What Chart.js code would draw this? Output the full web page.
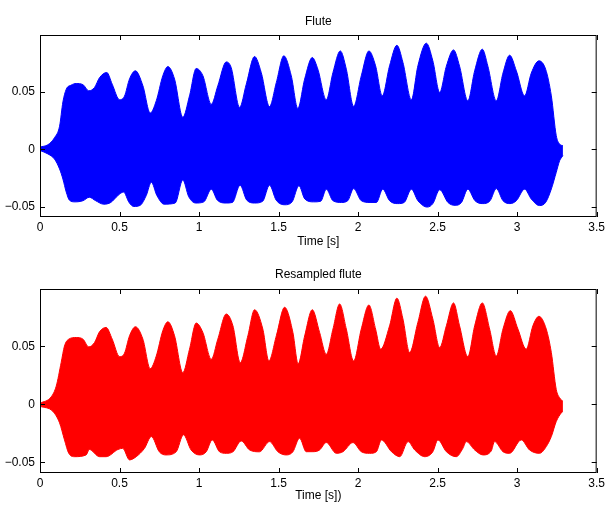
<!DOCTYPE html>
<html>
<head>
<meta charset="utf-8">
<script src="https://cdn.jsdelivr.net/npm/chart.js@4"></script>
<style>
  body { margin: 0; background: #fff; width: 608px; height: 506px; overflow: hidden; }
  .plot { position: absolute; left: 0; width: 608px; height: 253px; }
</style>
</head>
<body>
<div class="plot" style="top:0"><canvas id="flute" width="608" height="253"></canvas></div>
<div class="plot" style="top:253px"><canvas id="resampled" width="608" height="253"></canvas></div>
<script>
// tick values
const xTicks = [0, 0.5, 1, 1.5, 2, 2.5, 3, 3.5];
const yTicks = [-0.05, 0, 0.05];

// envelope of the original flute signal [time s, amplitude]
const fluteUpper = [
  [0,0.002],[0.05,0.004],[0.091,0.010],[0.123,0.020],[0.144,0.041],[0.165,0.052],[0.196,0.0556],
  [0.228,0.057],[0.27,0.056],[0.307,0.0507],[0.343,0.0536],[0.374,0.062],[0.42,0.0665],[0.454,0.0564],
  [0.5,0.043],[0.531,0.046],[0.563,0.061],[0.60,0.068],[0.647,0.055],[0.693,0.0314],[0.731,0.042],
  [0.772,0.0636],[0.804,0.0717],[0.846,0.0608],[0.898,0.0277],[0.94,0.0463],[0.982,0.070],[1.024,0.0638],
  [1.077,0.039],[1.118,0.055],[1.171,0.0757],[1.202,0.0708],[1.255,0.0363],[1.297,0.0564],[1.349,0.0804],
  [1.391,0.0665],[1.443,0.037],[1.486,0.0579],[1.533,0.081],[1.58,0.0636],[1.621,0.0354],[1.664,0.0608],
  [1.712,0.0795],[1.747,0.0694],[1.80,0.0429],[1.842,0.0665],[1.888,0.0852],[1.926,0.0694],[1.972,0.0372],
  [2.02,0.0636],[2.068,0.0852],[2.11,0.0723],[2.152,0.0463],[2.198,0.0723],[2.244,0.0901],[2.282,0.0752],
  [2.335,0.0429],[2.376,0.0723],[2.429,0.0919],[2.47,0.0766],[2.513,0.0493],[2.555,0.072],[2.60,0.0861],
  [2.638,0.072],[2.69,0.042],[2.733,0.068],[2.781,0.0867],[2.816,0.072],[2.869,0.042],[2.911,0.066],
  [2.953,0.0815],[2.995,0.068],[3.047,0.0463],[3.089,0.066],[3.137,0.0766],[3.179,0.0694],[3.215,0.0463],
  [3.246,0.0118],[3.267,0.0046],[3.288,0.0031]
];
const fluteLower = [
  [0,-0.001],[0.05,-0.004],[0.091,-0.0084],[0.123,-0.017],[0.144,-0.0257],[0.165,-0.037],[0.185,-0.044],
  [0.22,-0.0455],[0.27,-0.0445],[0.31,-0.0415],[0.35,-0.0445],[0.40,-0.0475],[0.445,-0.046],[0.49,-0.04],
  [0.525,-0.037],[0.56,-0.046],[0.59,-0.0495],[0.63,-0.0485],[0.668,-0.040],[0.70,-0.0285],[0.735,-0.040],
  [0.78,-0.0475],[0.85,-0.0465],[0.898,-0.0265],[0.935,-0.041],[0.98,-0.0465],[1.03,-0.0455],[1.077,-0.0345],
  [1.115,-0.044],[1.17,-0.0465],[1.21,-0.046],[1.258,-0.031],[1.30,-0.044],[1.35,-0.0465],[1.40,-0.045],
  [1.443,-0.031],[1.485,-0.044],[1.54,-0.048],[1.585,-0.0455],[1.628,-0.0315],[1.665,-0.043],[1.72,-0.0455],
  [1.765,-0.045],[1.80,-0.0345],[1.842,-0.0445],[1.895,-0.046],[1.935,-0.0445],[1.972,-0.034],[2.02,-0.0445],
  [2.075,-0.046],[2.115,-0.046],[2.155,-0.0345],[2.198,-0.0445],[2.25,-0.047],[2.29,-0.046],[2.335,-0.0345],
  [2.376,-0.0445],[2.435,-0.050],[2.47,-0.047],[2.513,-0.035],[2.565,-0.046],[2.61,-0.0485],[2.65,-0.046],
  [2.69,-0.0345],[2.735,-0.0445],[2.785,-0.047],[2.83,-0.0445],[2.869,-0.034],[2.911,-0.0445],[2.955,-0.047],
  [2.995,-0.0445],[3.047,-0.0345],[3.089,-0.043],[3.14,-0.0487],[3.18,-0.0458],[3.215,-0.0343],[3.246,-0.0199],
  [3.267,-0.0099],[3.288,-0.0055]
];

// envelope of the resampled signal
const resUpper = [
  [0,0.001],[0.07,0.0064],[0.102,0.0157],[0.133,0.036],[0.154,0.0504],[0.181,0.0563],[0.228,0.0577],
  [0.27,0.0563],[0.307,0.0496],[0.343,0.0534],[0.374,0.0626],[0.416,0.0664],[0.454,0.0563],[0.5,0.0412],
  [0.531,0.0441],[0.563,0.0592],[0.6,0.067],[0.647,0.0563],[0.693,0.0308],[0.731,0.0417],[0.772,0.0635],
  [0.804,0.0713],[0.846,0.0592],[0.898,0.0273],[0.94,0.0476],[0.982,0.0702],[1.024,0.0621],[1.077,0.0389],
  [1.118,0.0563],[1.171,0.078],[1.213,0.0678],[1.259,0.036],[1.307,0.0592],[1.349,0.0817],[1.401,0.065],
  [1.439,0.0375],[1.486,0.0592],[1.538,0.0838],[1.59,0.0621],[1.623,0.035],[1.664,0.059],[1.712,0.0817],
  [1.758,0.0621],[1.8,0.0432],[1.842,0.065],[1.884,0.0867],[1.926,0.065],[1.972,0.0374],[2.02,0.065],
  [2.068,0.0858],[2.11,0.065],[2.142,0.0476],[2.198,0.0678],[2.244,0.0917],[2.282,0.0737],[2.324,0.0447],
  [2.376,0.0708],[2.424,0.0934],[2.47,0.0737],[2.513,0.049],[2.555,0.0678],[2.6,0.0876],[2.638,0.0678],
  [2.69,0.0412],[2.733,0.0678],[2.781,0.0876],[2.827,0.065],[2.869,0.0417],[2.911,0.065],[2.957,0.0809],
  [3.005,0.065],[3.057,0.0476],[3.099,0.0678],[3.137,0.076],[3.183,0.065],[3.215,0.0447],[3.246,0.0128],
  [3.267,0.0056],[3.288,0.0026]
];
const resLower = [
  [0,-0.0017],[0.08,-0.006],[0.123,-0.016],[0.154,-0.0307],[0.181,-0.0423],[0.217,-0.0452],[0.29,-0.0437],
  [0.31,-0.039],[0.374,-0.0452],[0.416,-0.0452],[0.49,-0.039],[0.52,-0.038],[0.563,-0.048],[0.605,-0.0452],
  [0.657,-0.038],[0.70,-0.0278],[0.75,-0.041],[0.793,-0.0437],[0.856,-0.041],[0.902,-0.0263],[0.95,-0.0394],
  [1.003,-0.0437],[1.045,-0.041],[1.083,-0.0307],[1.129,-0.041],[1.171,-0.0423],[1.213,-0.041],[1.265,-0.0316],
  [1.318,-0.0394],[1.38,-0.041],[1.443,-0.0322],[1.496,-0.041],[1.548,-0.0437],[1.59,-0.041],[1.632,-0.0292],
  [1.674,-0.0409],[1.716,-0.0409],[1.758,-0.0394],[1.80,-0.033],[1.863,-0.0423],[1.905,-0.0409],[1.968,-0.033],
  [2.02,-0.0409],[2.073,-0.0423],[2.115,-0.0409],[2.147,-0.0307],[2.21,-0.0409],[2.262,-0.0452],[2.314,-0.0322],
  [2.356,-0.0394],[2.419,-0.0452],[2.47,-0.0409],[2.502,-0.0307],[2.555,-0.0409],[2.617,-0.0452],[2.659,-0.038],
  [2.68,-0.0322],[2.733,-0.0394],[2.785,-0.0437],[2.837,-0.0403],[2.858,-0.0322],[2.911,-0.0409],[2.953,-0.0423],
  [3.026,-0.0307],[3.078,-0.0394],[3.141,-0.0423],[3.183,-0.0365],[3.215,-0.0278],[3.246,-0.0148],[3.277,-0.0075],
  [3.288,-0.006]
];

const font = { family: "'Liberation Sans', Arial, Helvetica, sans-serif", size: 12 };

// matlab style box with inward ticks on all four sides
const boxTicks = {
  id: 'boxTicks',
  afterDatasetsDraw(chart) {
    const { ctx, chartArea: a, scales: { x, y } } = chart;
    ctx.save();
    ctx.strokeStyle = '#000';
    ctx.lineWidth = 1;
    ctx.beginPath();
    xTicks.forEach(v => {
      const px = Math.round(x.getPixelForValue(v)) + 0.5;
      ctx.moveTo(px, a.bottom); ctx.lineTo(px, a.bottom - 5);
      ctx.moveTo(px, a.top); ctx.lineTo(px, a.top + 5);
    });
    yTicks.forEach(v => {
      const py = Math.round(y.getPixelForValue(v)) + 0.5;
      ctx.moveTo(a.left, py); ctx.lineTo(a.left + 5, py);
      ctx.moveTo(a.right, py); ctx.lineTo(a.right - 5, py);
    });
    ctx.stroke();
    ctx.strokeRect(a.left + 0.5, a.top + 0.5, a.right - a.left - 1, a.bottom - a.top - 1);
    ctx.restore();
  }
};

function toPoints(arr) {
  return arr.map(p => ({ x: p[0], y: p[1] }));
}

function makeChart(id, title, xTitle, color, upper, lower, box) {
  return new Chart(document.getElementById(id), {
    type: 'line',
    data: {
      datasets: [
        { data: toPoints(upper), borderColor: color, backgroundColor: color, fill: '+1',
          borderWidth: 1, pointRadius: 0, cubicInterpolationMode: 'monotone', xAxisID: 'x', yAxisID: 'y' },
        { data: toPoints(lower), borderColor: color, backgroundColor: color, fill: false,
          borderWidth: 1, pointRadius: 0, cubicInterpolationMode: 'monotone', xAxisID: 'x', yAxisID: 'y' }
      ]
    },
    options: {
      responsive: false,
      animation: false,
      layout: { padding: { left: 0, right: 11, top: 0, bottom: 0 } },
      plugins: { legend: { display: false }, tooltip: { enabled: false } },
      scales: {
        x: {
          type: 'linear', position: 'bottom', min: 0, max: 3.5,
          afterBuildTicks: s => { s.ticks = xTicks.map(v => ({ value: v })); },
          afterFit: s => { s.height = box.bottomH; },
          grid: { display: false, drawTicks: false }, border: { display: false },
          ticks: { color: '#000', font, padding: 3, maxRotation: 0, autoSkip: false,
                   callback: v => String(v) },
          title: { display: true, text: xTitle, color: '#000', font, padding: { top: 0, bottom: box.xTitlePad } }
        },
        top: {
          type: 'linear', position: 'top', min: 0, max: 3.5,
          afterFit: s => { s.height = box.topH; },
          grid: { display: false, drawTicks: false }, border: { display: false },
          ticks: { display: false },
          title: { display: true, text: title, color: '#000', font, padding: { top: 14, bottom: 0 } }
        },
        y: {
          type: 'linear', position: 'left', min: box.yMin, max: box.yMax,
          afterBuildTicks: s => { s.ticks = yTicks.map(v => ({ value: v })); },
          afterFit: s => { s.width = 40; },
          grid: { display: false, drawTicks: false }, border: { display: false },
          ticks: { color: '#000', font, padding: 5,
                   callback: v => v < 0 ? '\u2212' + Math.abs(v) : String(v) }
        }
      }
    },
    plugins: [boxTicks]
  });
}

makeChart('flute', 'Flute', 'Time [s]', '#0000ff', fluteUpper, fluteLower,
  { topH: 35, bottomH: 36, xTitlePad: 4, yMin: -0.0586, yMax: 0.099 });
makeChart('resampled', 'Resampled flute', 'Time [s])', '#ff0000', resUpper, resLower,
  { topH: 36, bottomH: 33, xTitlePad: 3, yMin: -0.0593, yMax: 0.0996 });
</script>
</body>
</html>
